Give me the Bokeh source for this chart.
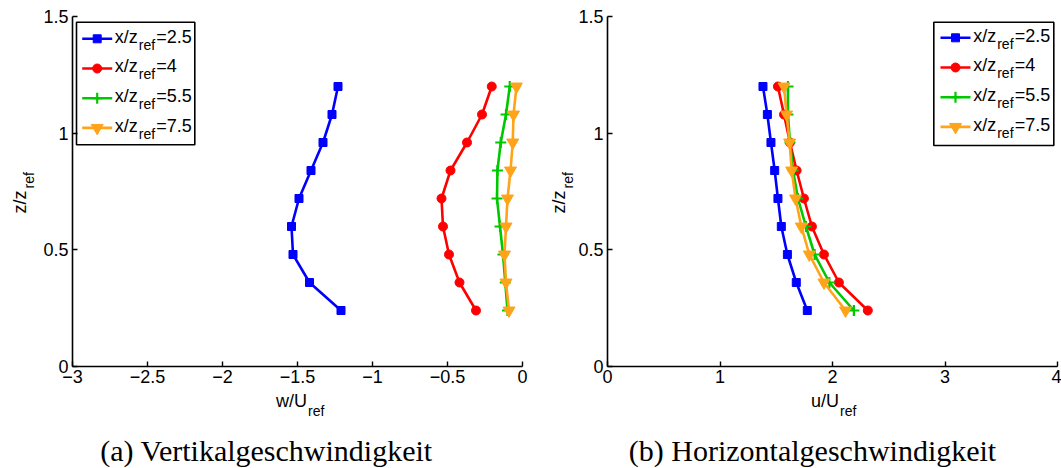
import numpy as np
from bokeh.plotting import figure
from bokeh.models import Range1d, FixedTicker, Label, BoxAnnotation
from bokeh.layouts import row, column
from bokeh.embed import file_html
from bokeh.resources import INLINE

# ---------------- data ----------------
z_levels = [0.24, 0.36, 0.48, 0.60, 0.72, 0.84, 0.96, 1.08, 1.20]

w_25 = [-1.21, -1.42, -1.53, -1.54, -1.49, -1.41, -1.33, -1.27, -1.23]
w_40 = [-0.31, -0.42, -0.49, -0.53, -0.54, -0.48, -0.37, -0.27, -0.205]
w_55 = [-0.10, -0.115, -0.13, -0.15, -0.17, -0.167, -0.145, -0.11, -0.085]
w_75 = [-0.09, -0.11, -0.12, -0.11, -0.10, -0.08, -0.065, -0.06, -0.04]

u_25 = [1.776, 1.678, 1.599, 1.545, 1.515, 1.486, 1.453, 1.421, 1.382]
u_40 = [2.314, 2.057, 1.924, 1.817, 1.746, 1.681, 1.622, 1.569, 1.515]
u_55 = [2.190, 1.972, 1.841, 1.764, 1.693, 1.649, 1.622, 1.604, 1.604]
u_75 = [2.116, 1.924, 1.794, 1.723, 1.672, 1.637, 1.619, 1.592, 1.569]

series_values = ["2.5", "4", "5.5", "7.5"]
series_colors = ["#0000FF", "#FF0000", "#00C800", "#FFA31A"]
series_markers = ["square", "circle", "cross", "inverted_triangle"]
series_sizes = [8, 9, 11, 12]

x_ticks_a = [-3, -2.5, -2, -1.5, -1, -0.5, 0]
x_labels_a = ["\u22123", "\u22122.5", "\u22122", "\u22121.5", "\u22121", "\u22120.5", "0"]
x_ticks_b = [0, 1, 2, 3, 4]
x_labels_b = ["0", "1", "2", "3", "4"]
y_ticks = [0, 0.5, 1, 1.5]
y_labels = ["0", "0.5", "1", "1.5"]

caption_a = "(a) Vertikalgeschwindigkeit"
caption_b = "(b) Horizontalgeschwindigkeit"

# ---------------- layout constants (pixels) ----------------
H = 468
TOP = 16
FRAME_H = 350
PANEL_H = 390
BOTTOM = PANEL_H - TOP - FRAME_H
SANS = "Liberation Sans"
SERIF = "Liberation Serif"
TICK_SIZE = 18
SUB_SIZE = 14
CAP_SIZE = 30
MID = 0.335  # distance baseline -> em middle, in em


def make_panel(width, border_left, border_right, xr, xticks, xlabels, canvas_x0):
    p = figure(width=width, height=PANEL_H, x_range=Range1d(*xr), y_range=Range1d(0, 1.5),
               output_backend="svg", toolbar_location=None,
               min_border_left=border_left, min_border_right=border_right,
               min_border_top=TOP, min_border_bottom=BOTTOM)
    p.grid.visible = False
    p.outline_line_color = None
    p.background_fill_color = "white"
    p.border_fill_color = "white"
    p.xaxis.ticker = FixedTicker(ticks=xticks)
    p.xaxis.major_label_overrides = {t: l for t, l in zip(xticks, xlabels)}
    p.yaxis.ticker = FixedTicker(ticks=y_ticks)
    p.yaxis.major_label_overrides = {t: l for t, l in zip(y_ticks, y_labels)}
    for ax in (p.xaxis[0], p.yaxis[0]):
        ax.axis_line_width = 1.6
        ax.axis_line_color = "black"
        ax.major_tick_in = 5
        ax.major_tick_out = 0
        ax.major_tick_line_width = 1.4
        ax.major_tick_line_color = "black"
        ax.minor_tick_line_color = None
        ax.major_label_text_font = SANS
        ax.major_label_text_font_size = f"{TICK_SIZE}px"
        ax.major_label_text_color = "black"
    p.yaxis.major_label_standoff = 4
    p.xaxis.major_label_standoff = 3
    frame_left = canvas_x0 + border_left
    frame_w = width - border_left - border_right

    def px2x(px):
        return xr[0] + (px - frame_left) / frame_w * (xr[1] - xr[0])

    def py2y(py):
        return (TOP + FRAME_H - py) / FRAME_H * 1.5

    return p, px2x, py2y


def make_strip(width, height, x0, y0, border_left=0, border_right=0):
    """Blank figure used only to hold texts; data units = page pixels (y negated)."""
    s = figure(width=width, height=height,
               x_range=Range1d(x0 + border_left, x0 + width - border_right),
               y_range=Range1d(-(y0 + height), -y0), output_backend="svg",
               toolbar_location=None, x_axis_type=None, y_axis_type=None,
               min_border=0, min_border_left=border_left, min_border_right=border_right,
               min_border_top=0, min_border_bottom=0, title=None)
    s.grid.visible = False
    s.outline_line_color = None
    s.background_fill_color = "white"
    s.border_fill_color = "white"
    return s


def add_text(p, x, y, text, size, font=SANS, align="left", angle=0.0):
    p.add_layout(Label(x=x, y=y, text=text, text_font=font, text_font_size=f"{size}px",
                       text_align=align, text_baseline="middle", angle=angle,
                       text_color="black"))


def add_series(p, xs_list):
    for xs, col, mk, sz in zip(xs_list, series_colors, series_markers, series_sizes):
        p.line(xs, z_levels, line_color=col, line_width=2.6)
        if mk == "cross":
            p.scatter(xs, z_levels, marker=mk, size=sz, line_color=col, line_width=2.2)
        else:
            p.scatter(xs, z_levels, marker=mk, size=sz, fill_color=col, line_color=col)


def add_legend(p, px2x, py2y, box, line_x0, text_x, row0):
    p.add_layout(BoxAnnotation(left=px2x(box[0]), right=px2x(box[1]),
                               top=py2y(box[2]), bottom=py2y(box[3]),
                               fill_color="white", fill_alpha=1.0,
                               line_color="black", line_alpha=1.0, line_width=1.6,
                               level="underlay"))
    for i, (val, col, mk, sz) in enumerate(zip(series_values, series_colors,
                                                series_markers, series_sizes)):
        ry = row0 + i * 29.7
        p.line([px2x(line_x0), px2x(line_x0 + 30)], [py2y(ry), py2y(ry)],
               line_color=col, line_width=2.6)
        if mk == "cross":
            p.scatter([px2x(line_x0 + 15)], [py2y(ry)], marker=mk, size=sz,
                      line_color=col, line_width=2.2)
        else:
            p.scatter([px2x(line_x0 + 15)], [py2y(ry)], marker=mk, size=sz,
                      fill_color=col, line_color=col)
        main_mid = ry + 4 - MID * TICK_SIZE
        sub_mid = ry + 10.5 - MID * SUB_SIZE
        add_text(p, px2x(text_x), py2y(main_mid), "x/z", TICK_SIZE)
        add_text(p, px2x(text_x + 24), py2y(sub_mid), "ref", SUB_SIZE)
        add_text(p, px2x(text_x + 41.5), py2y(main_mid), "=" + val, TICK_SIZE)


def add_xlabel(s, main, join_x):
    add_text(s, join_x, -(407 - MID * TICK_SIZE), main, TICK_SIZE, align="right")
    add_text(s, join_x + 1, -(415 - MID * SUB_SIZE), "ref", SUB_SIZE)


def add_ylabel(s, base_x, sub_x):
    # rotated text: glyph tops point left, so the em middle lies left of the baseline
    add_text(s, base_x - MID * TICK_SIZE, -190, "z/z", TICK_SIZE, align="right",
             angle=np.pi / 2)
    add_text(s, sub_x - MID * SUB_SIZE, -188, "ref", SUB_SIZE, align="left",
             angle=np.pi / 2)


def add_caption(s, cx, text):
    add_text(s, cx, -(460 - MID * CAP_SIZE), text, CAP_SIZE, font=SERIF, align="center")


# ---------------- panel (a) ----------------
A_X0, A_W, A_BL, A_BR = 38, 490, 34, 6
pa, ax_x, ax_y = make_panel(A_W, A_BL, A_BR, (-3, 0), x_ticks_a, x_labels_a, A_X0)
add_series(pa, [w_25, w_40, w_55, w_75])
add_legend(pa, ax_x, ax_y, (76, 194.3, 21.7, 144.3), 81.7, 114.3, 38.3)

strip_left = make_strip(A_X0, H, 0, 0)
add_ylabel(strip_left, 26.0, 33.5)
strip_a = make_strip(A_W, H - PANEL_H, A_X0, PANEL_H, A_BL, A_BR)
add_xlabel(strip_a, "w/U", 306.5)
add_caption(strip_a, 266, caption_a)

# ---------------- panel (b) ----------------
M_X0 = A_X0 + A_W
B_X0 = 575
M_W = B_X0 - M_X0
B_W, B_BL, B_BR = 1061 - B_X0, 32, 4
pb, bx_x, bx_y = make_panel(B_W, B_BL, B_BR, (0, 4), x_ticks_b, x_labels_b, B_X0)
add_series(pb, [u_25, u_40, u_55, u_75])
add_legend(pb, bx_x, bx_y, (933.3, 1053.3, 21.7, 145), 940, 972.7, 37.3)

strip_mid = make_strip(M_W, H, M_X0, 0)
add_ylabel(strip_mid, 565.0, 572.0)
strip_b = make_strip(B_W, H - PANEL_H, B_X0, PANEL_H, B_BL, B_BR)
add_xlabel(strip_b, "u/U", 838.5)
add_caption(strip_b, 812, caption_b)

layout = row(strip_left, column(pa, strip_a), strip_mid, column(pb, strip_b))
open("out.html", "w").write(file_html(layout, INLINE))
